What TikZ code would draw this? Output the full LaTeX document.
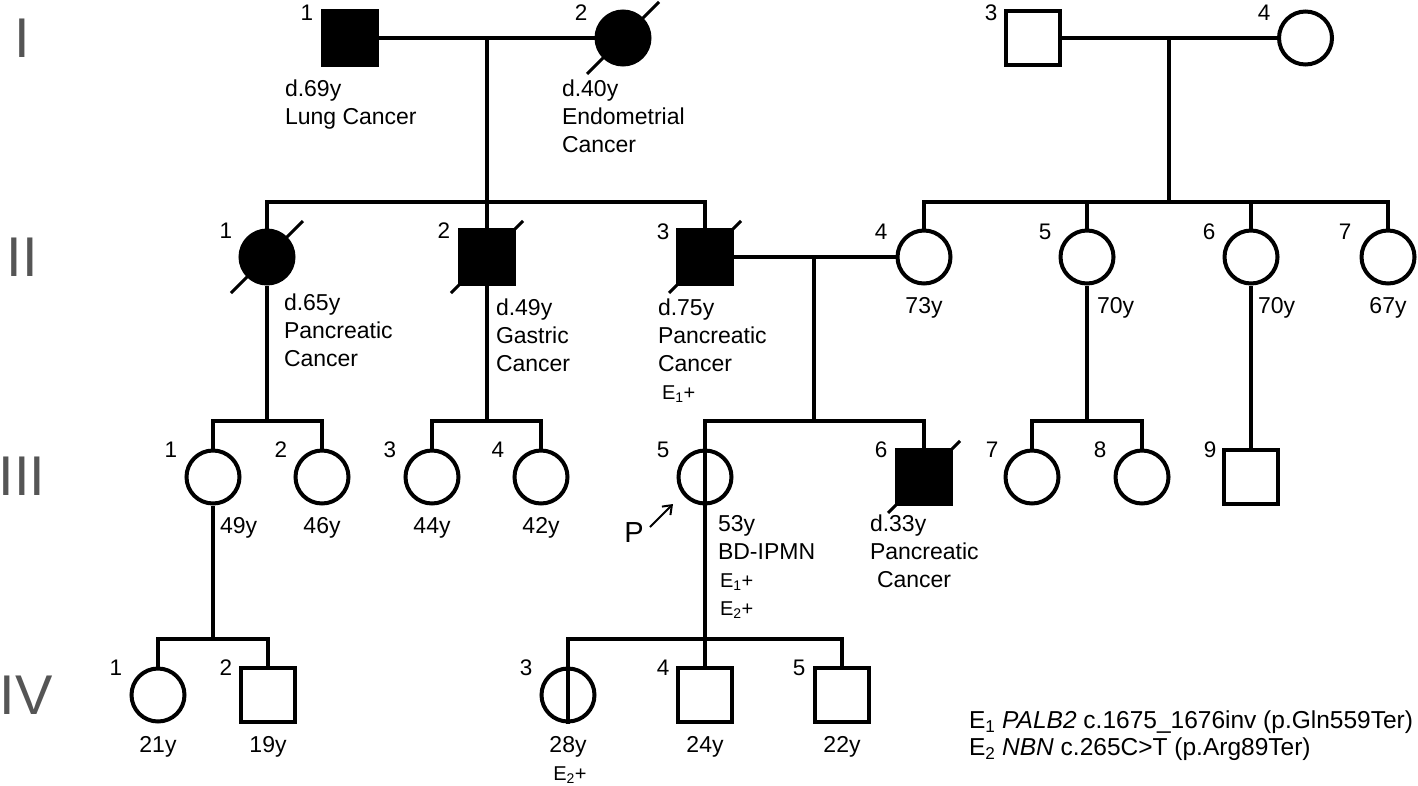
\documentclass[tikz,border=0pt]{standalone}
\usepackage{fontspec}
\setmainfont{Liberation Sans}
\usetikzlibrary{arrows.meta}
\definecolor{gentext}{HTML}{555555}

\begin{document}
\begin{tikzpicture}[x=1pt,y=-1pt,line width=4pt]
	\tikzstyle{male}=[draw,rectangle,minimum size=54pt,inner sep=0pt]
	\tikzstyle{female}=[draw,circle,minimum size=53pt,inner sep=0pt]
	\tikzstyle{affected}=[fill=black]
	\tikzstyle{dead}=[line width=3pt]
	\tikzstyle{num}=[inner sep=0pt,font=\fontsize{22.5}{25}\selectfont]
	\tikzstyle{info}=[inner sep=0pt,align=left,anchor=north west,font=\fontsize{23}{28}\selectfont]
	\tikzstyle{age}=[inner sep=0pt,anchor=base,font=\fontsize{23}{28}\selectfont]
	\tikzstyle{gen}=[inner sep=0pt,text=gentext,font=\fontsize{56}{60}\selectfont]
	\tikzstyle{small}=[font=\fontsize{20}{28}\selectfont]

	\useasboundingbox (0,0) rectangle (1418,785);

	% generations
	\node[gen] (gI) at (22,38) {I};
	\node[gen] (gII) at (22.5,257) {II};
	\node[gen] (gIII) at (22,476) {III};
	\node[gen] (gIV) at (26,695) {IV};

	% generation I
	\node[male,affected] (I1) at (349.5,38) {};
	\node[female,affected] (I2) at (623,38) {};
	\node[male] (I3) at (1032.5,38) {};
	\node[female] (I4) at (1305.5,38) {};
	\coordinate (m1) at (487,38);
	\coordinate (m3) at (1169,38);

	% generation II
	\node[female,affected] (II1) at (267,257) {};
	\node[male,affected] (II2) at (487,257) {};
	\node[male,affected] (II3) at (705,257) {};
	\node[female] (II4) at (924,257) {};
	\node[female] (II5) at (1087,257) {};
	\node[female] (II6) at (1251,257) {};
	\node[female] (II7) at (1388,257) {};
	\coordinate (sibII) at (487,202);
	\coordinate (sibIIr) at (1169,202);
	\coordinate (m2) at (814,257);

	% generation III
	\node[female] (III1) at (213,477) {};
	\node[female] (III2) at (322,477) {};
	\node[female] (III3) at (432,477) {};
	\node[female] (III4) at (541,477) {};
	\node[female] (III5) at (705,477) {};
	\node[male,affected] (III6) at (924,477) {};
	\node[female] (III7) at (1032,477) {};
	\node[female] (III8) at (1142,477) {};
	\node[male] (III9) at (1251,477) {};
	\coordinate (sibIIIa) at (267,421);
	\coordinate (sibIIIb) at (487,421);
	\coordinate (sibIIIc) at (814,421);
	\coordinate (sibIIId) at (1087,421);

	% generation IV
	\node[female] (IV1) at (158,695) {};
	\node[male] (IV2) at (268,695) {};
	\node[female] (IV3) at (568,695) {};
	\node[male] (IV4) at (705,695) {};
	\node[male] (IV5) at (842,695) {};
	\coordinate (sibIVa) at (213,639);
	\coordinate (sibIVb) at (705,639);

	% lines
	\draw (I1) -- (I2);
	\draw (I3) -- (I4);
	\draw (m1) -- (sibII);
	\draw (II1) |- (sibII) -| (II3);
	\draw (sibII) -- (II2);
	\draw (m3) -- (sibIIr);
	\draw (II4) |- (sibIIr) -| (II7);
	\draw (II5) |- (sibIIr);
	\draw (II6) |- (sibIIr);
	\draw (II3) -- (II4);
	\draw (m2) -- (sibIIIc);
	\draw (II1) -- (sibIIIa);
	\draw (III1) |- (sibIIIa) -| (III2);
	\draw (II2) -- (sibIIIb);
	\draw (III3) |- (sibIIIb) -| (III4);
	\draw (III6) |- (sibIIIc) -| (III5.north) -- (sibIVb);
	\draw (II5) -- (sibIIId);
	\draw (III7) |- (sibIIId) -| (III8);
	\draw (II6) -- (III9);
	\draw (III1) -- (sibIVa);
	\draw (IV1) |- (sibIVa) -| (IV2);
	\draw (IV5) |- (sibIVb) -| (IV3.south);
	\draw (sibIVb) -- (IV4);

	% deceased
	\foreach \p in {I2,II1,II2,II3,III6}
		\draw[dead] ([shift={(-36,36)}]\p.center) -- ([shift={(36,-36)}]\p.center);

	% numbers
	\node[num] (nI1) at (307,13) {1};
	\node[num] (nI2) at (581,13) {2};
	\node[num] (nI3) at (991,13) {3};
	\node[num] (nI4) at (1264,13) {4};
	\node[num] (nII1) at (226,231) {1};
	\node[num] (nII2) at (444,231) {2};
	\node[num] (nII3) at (663,232) {3};
	\node[num] (nII4) at (881,232) {4};
	\node[num] (nII5) at (1045,232) {5};
	\node[num] (nII6) at (1209,232) {6};
	\node[num] (nII7) at (1345,232) {7};
	\node[num] (nIII1) at (171,450) {1};
	\node[num] (nIII2) at (281,450) {2};
	\node[num] (nIII3) at (390,450) {3};
	\node[num] (nIII4) at (498,450) {4};
	\node[num] (nIII5) at (663,450) {5};
	\node[num] (nIII6) at (881,450) {6};
	\node[num] (nIII7) at (992,450) {7};
	\node[num] (nIII8) at (1100,450) {8};
	\node[num] (nIII9) at (1210,450) {9};
	\node[num] (nIV1) at (116,668) {1};
	\node[num] (nIV2) at (226,668) {2};
	\node[num] (nIV3) at (526,668) {3};
	\node[num] (nIV4) at (663,668) {4};
	\node[num] (nIV5) at (799,668) {5};

	% ages and notes
	\node[info] (tI1) at (283,78) {d.69y\\Lung Cancer};
	\node[info] (tI2) at (560,78) {d.40y\\Endometrial\\Cancer};
	\node[info] (tII1) at (282,292) {d.65y\\Pancreatic\\Cancer};
	\node[info] (tII2) at (494,297) {d.49y\\Gastric\\Cancer};
	\node[info] (tII3) at (656,297) {d.75y\\Pancreatic\\Cancer\\\hspace{4pt}{\fontsize{20}{28}\selectfont E\textsubscript{1}+}};
	\node[age] (tII4) at (924,313) {73y};
	\node[age,anchor=base west] (tII5) at (1095,313) {70y};
	\node[age,anchor=base west] (tII6) at (1256,313) {70y};
	\node[age] (tII7) at (1388,313) {67y};
	\node[age,anchor=base west] (tIII1) at (218,533) {49y};
	\node[age] (tIII2) at (322,533) {46y};
	\node[age] (tIII3) at (432,533) {44y};
	\node[age] (tIII4) at (541,533) {42y};
	\node[info] (tIII5) at (716,513) {53y\\BD-IPMN\\\hspace{2pt}{\fontsize{20}{28}\selectfont E\textsubscript{1}+}\\\hspace{2pt}{\fontsize{20}{28}\selectfont E\textsubscript{2}+}};
	\node[info] (tIII6) at (868,513) {d.33y\\Pancreatic\\\hspace{7pt}Cancer};
	\node[age] (tIV1) at (158,752) {21y};
	\node[age] (tIV2) at (268,752) {19y};
	\node[age] (tIV3) at (568,752) {28y};
	\node[age,small] (tIV3b) at (570,780) {E\textsubscript{2}+};
	\node[age] (tIV4) at (705,752) {24y};
	\node[age] (tIV5) at (842,752) {22y};

	% proband
	\node[inner sep=0pt,font=\fontsize{29}{32}\selectfont] (P) at (634,533) {P};
	\coordinate (pfrom) at (650,527);
	\coordinate (pto) at (673,504);
	\draw[line width=2pt,-{Straight Barb[length=8pt,width=12pt]}] (pfrom) -- (pto);

	% legend
	\node[info,font=\fontsize{24.5}{27}\selectfont] (legend) at (967,709) {E\textsubscript{1} \textit{PALB2} c.1675\_1676inv (p.Gln559Ter)\\E\textsubscript{2} \textit{NBN} c.265C>T (p.Arg89Ter)};
\end{tikzpicture}
\end{document}
